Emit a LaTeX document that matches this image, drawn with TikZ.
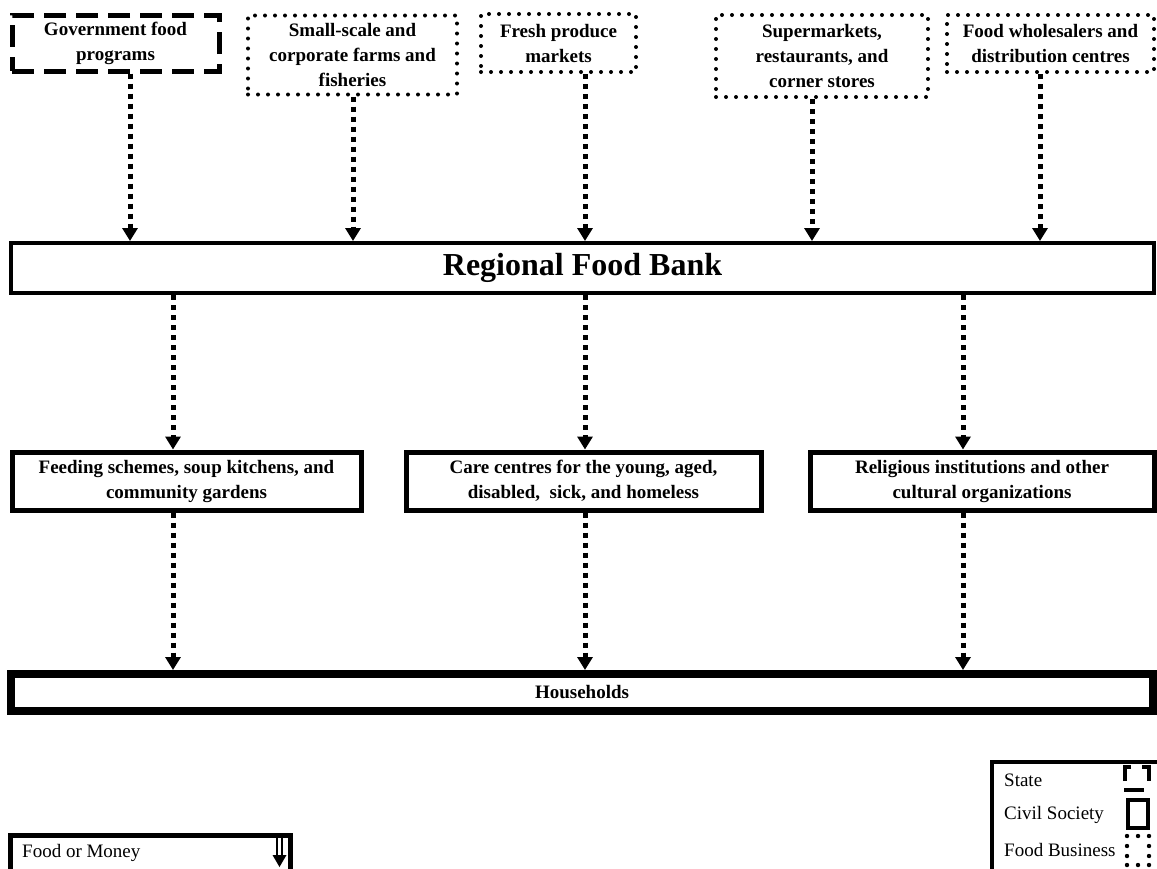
\documentclass[tikz,border=0pt]{standalone}
\usepackage{fontspec}
\setmainfont{Liberation Serif}
\usetikzlibrary{arrows.meta}
\begin{document}
\begin{tikzpicture}[x=1pt,y=-1pt,
 box/.style={draw,line width=5pt,inner sep=0pt,align=center,font=\fontsize{19}{25}\selectfont\bfseries},
 govbox/.style={box,dash pattern=on 22pt off 10pt},
 bizbox/.style={box,line width=4pt,line cap=round,dash pattern=on 0pt off 10pt},
 flow/.style={line width=5pt,dash pattern=on 5pt off 5pt,-{Triangle[width=15pt,length=13pt]}},
 legtext/.style={inner sep=0pt,anchor=west,font=\fontsize{19}{22}\selectfont},
]
\useasboundingbox (0,0) rectangle (1157,868);

% sources
\node[govbox,minimum width=207pt,minimum height=56pt] (gov) at (115.5,43) {Government food\\programs};
\node[bizbox,minimum width=209pt,minimum height=79pt] (farm) at (352.5,55) {Small-scale and\\corporate farms and\\fisheries};
\node[bizbox,minimum width=155pt,minimum height=58pt] (fresh) at (558.5,43) {Fresh produce\\markets};
\node[bizbox,minimum width=212pt,minimum height=82pt] (super) at (822,56) {Supermarkets,\\restaurants, and\\corner stores};
\node[bizbox,minimum width=207pt,minimum height=57pt] (whole) at (1050.5,43.5) {Food wholesalers and\\distribution centres};

% regional food bank
\node[box,line width=4pt,minimum width=1143pt,minimum height=50pt,font=\fontsize{32}{36}\selectfont\bfseries] (rfb) at (582.5,268) {\raisebox{-2pt}{Regional Food Bank}};

% intermediaries
\node[box,minimum width=349pt,minimum height=58pt] (feed) at (186.5,481) {Feeding schemes, soup kitchens, and\\community gardens};
\node[box,minimum width=355pt,minimum height=58pt] (care) at (583.5,481) {Care centres for the young, aged,\\disabled,\ \ sick, and homeless};
\node[box,minimum width=344pt,minimum height=58pt] (rel) at (982,481) {Religious institutions and other\\cultural organizations};

% households
\node[box,line width=8pt,minimum width=1142pt,minimum height=37pt] (hh) at (582,692.5) {Households};

% arrow columns
\coordinate (c1) at (130,0);
\coordinate (c2) at (353,0);
\coordinate (c3) at (585,0);
\coordinate (c4) at (812,0);
\coordinate (c5) at (1040,0);
\coordinate (d1) at (173,0);
\coordinate (d2) at (585,0);
\coordinate (d3) at (963,0);

\draw[flow] (gov.south -| c1) -- (rfb.north -| c1);
\draw[flow] (farm.south -| c2) -- (rfb.north -| c2);
\draw[flow] (fresh.south -| c3) -- (rfb.north -| c3);
\draw[flow] (super.south -| c4) -- (rfb.north -| c4);
\draw[flow] (whole.south -| c5) -- (rfb.north -| c5);

\draw[flow] (rfb.south -| d1) -- (feed.north -| d1);
\draw[flow] (rfb.south -| d2) -- (care.north -| d2);
\draw[flow] (rfb.south -| d3) -- (rel.north -| d3);

\draw[flow] (feed.south -| d1) -- (hh.north -| d1);
\draw[flow] (care.south -| d2) -- (hh.north -| d2);
\draw[flow] (rel.south -| d3) -- (hh.north -| d3);

% legend right
\node[draw,line width=4pt,minimum width=180pt,minimum height=110pt,inner sep=0pt] (legr) at (1082,817) {};
\node[legtext] (lstate) at (1004,780) {State};
\node[legtext] (lcivil) at (1004,815) {Civil Society};
\node[legtext] (lbiz) at (1004,850) {Food Business};
% state symbol
\draw[line width=4pt] (1125,781) -- (1125,767) -- (1131,767);
\draw[line width=4pt] (1142,767) -- (1149,767) -- (1149,781);
\draw[line width=4pt] (1124,790) -- (1144,790);
% civil symbol
\draw[line width=4pt] (1128,800) rectangle (1148,828);
% business symbol
\foreach \p in {(1127,836),(1138,836),(1149,836),(1127,846),(1149,846),(1127,856),(1149,856),(1127,865),(1138,865),(1149,865)}
  \fill \p circle (2.2pt);

% legend left
\node[draw,line width=5pt,minimum width=280pt,minimum height=40pt,inner sep=0pt] (legl) at (150,855) {};
\node[legtext] (lfood) at (22,853) {Food or Money};
\draw[line width=1.3pt] (277,838) -- (277,857);
\draw[line width=1.3pt] (282,838) -- (282,857);
\fill (272.5,855) -- (286.5,855) -- (279.5,867) -- cycle;
\end{tikzpicture}
\end{document}
